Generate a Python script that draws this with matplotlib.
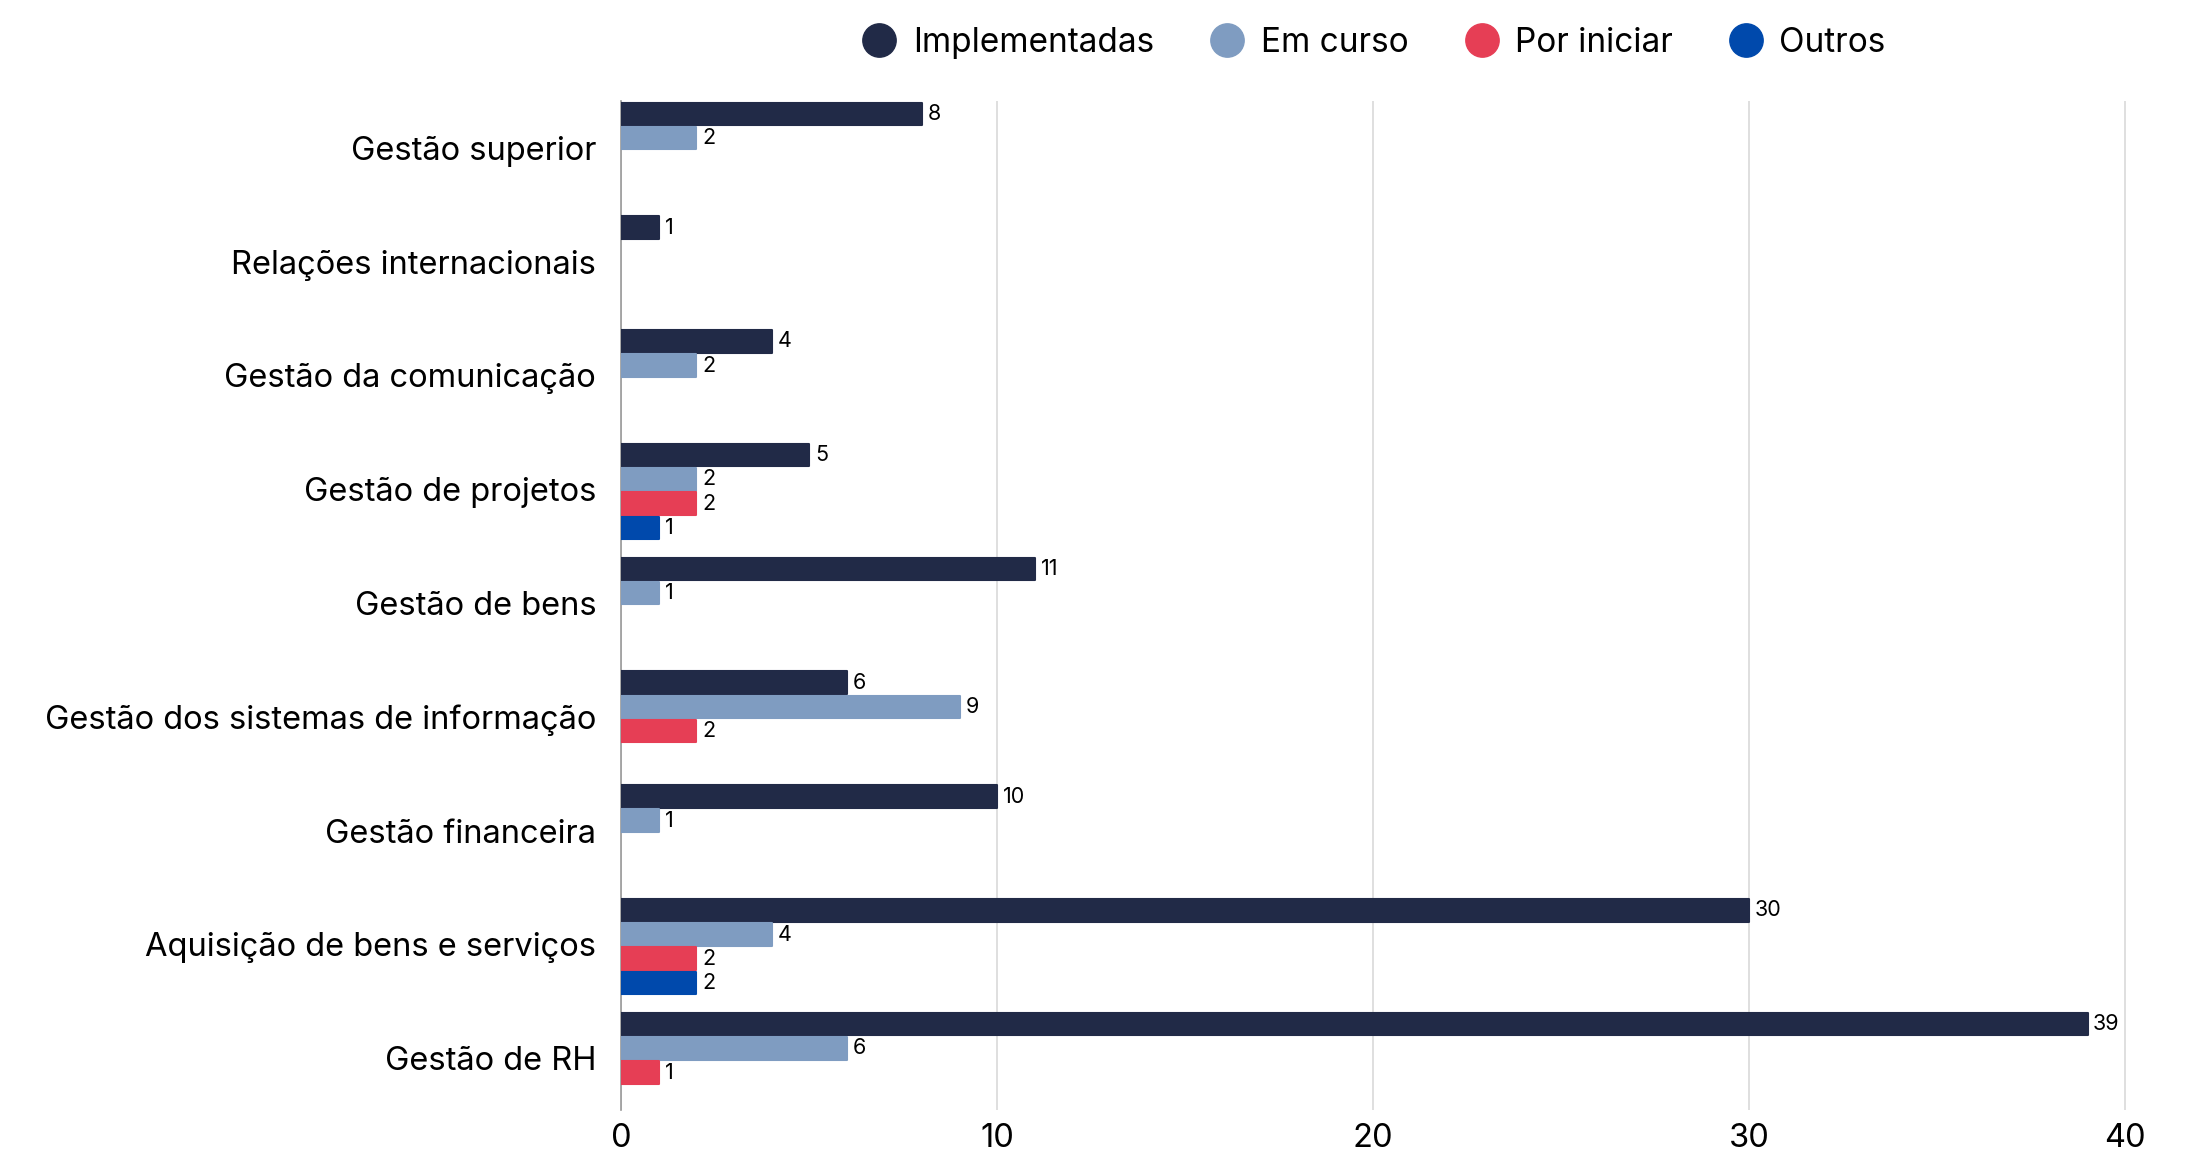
import numpy as np
import matplotlib.pyplot as plt
from matplotlib.lines import Line2D

plt.rcParams['font.family'] = ['Inter', 'DejaVu Sans']

# categories from top to bottom
categories = [
    "Gestão superior",
    "Relações internacionais",
    "Gestão da comunicação",
    "Gestão de projetos",
    "Gestão de bens",
    "Gestão dos sistemas de informação",
    "Gestão financeira",
    "Aquisição de bens e serviços",
    "Gestão de RH",
]
series_names = ["Implementadas", "Em curso", "Por iniciar", "Outros"]
implementadas = [8, 1, 4, 5, 11, 6, 10, 30, 39]
em_curso = [2, 0, 2, 2, 1, 9, 1, 4, 6]
por_iniciar = [0, 0, 0, 2, 0, 2, 0, 2, 1]
outros = [0, 0, 0, 1, 0, 0, 0, 2, 0]
colors = ["#212a47", "#7f9cc1", "#e63e55", "#0049ac"]
xticks = [0, 10, 20, 30, 40]

series = [implementadas, em_curso, por_iniciar, outros]

fig = plt.figure(figsize=(22.03, 11.51), dpi=100)
ax = fig.add_axes([0.282, 0.0356, 0.6835, 0.877])

slot = 0.213
y = np.arange(len(categories))
for k, (vals, col) in enumerate(zip(series, colors)):
    vals = np.array(vals, dtype=float)
    pos = y + (k - 1.5) * slot
    mask = vals > 0
    ax.barh(pos[mask], vals[mask], height=slot * 0.93, color=col,
            edgecolor=col, linewidth=1.5, joinstyle='round', zorder=3)
    for p, v in zip(pos[mask], vals[mask]):
        ax.text(v + 0.15, p, f"{int(v)}", va='center', ha='left',
                fontsize=15.5, color='black', zorder=4)

ax.set_ylim(len(categories) - 1 + 2 * slot + 0.01, -2 * slot - 0.01)
ax.set_xlim(0, 40.05)
ax.set_yticks(y - 0.02)
ax.set_yticklabels(categories, fontsize=23.5)
ax.set_xticks(xticks)
ax.set_xticklabels([str(t) for t in xticks], fontsize=23.5)
ax.tick_params(axis='both', length=0)
ax.tick_params(axis='y', pad=18)
ax.tick_params(axis='x', pad=9)

ax.grid(axis='x', color='#d9d9d9', linewidth=1.2, zorder=0)
for s in ['top', 'right', 'bottom']:
    ax.spines[s].set_visible(False)
ax.spines['left'].set_color('#999999')
ax.spines['left'].set_linewidth(1.2)

handles = [Line2D([0], [0], marker='o', linestyle='', markersize=24,
                  markerfacecolor=c, markeredgecolor=c) for c in colors]
fig.legend(handles, series_names, loc='center', ncol=4,
           bbox_to_anchor=(0.62, 0.963), frameon=False, fontsize=24,
           handletextpad=0.0, columnspacing=1.2)

fig.savefig("out.png", dpi=100)
